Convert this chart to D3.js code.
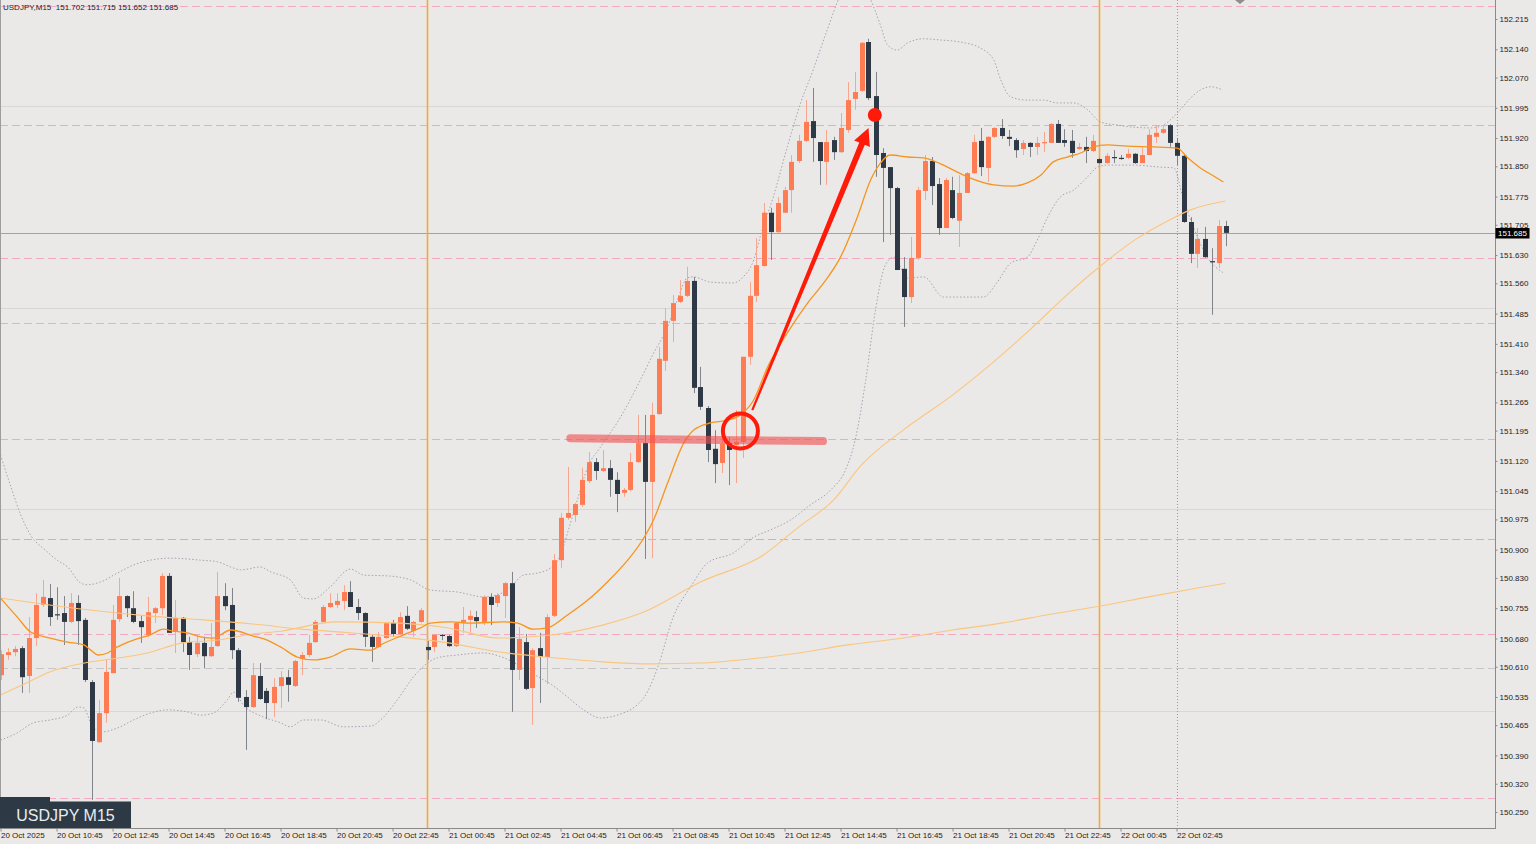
<!DOCTYPE html>
<html><head><meta charset="utf-8">
<script src="https://cdn.jsdelivr.net/npm/d3@7"></script>
<style>
html,body{margin:0;padding:0;background:#ebe9e7;}
svg{display:block;font-family:"Liberation Sans",Arial,sans-serif;}
</style>
</head><body>
<svg id="chart" width="1536" height="844"></svg>
<script>
// ---------------- DATA ----------------
const symbolTitle = "USDJPY,M15";
const lastQuote = ["151.702","151.715","151.652","151.685"];
const boxLabel = "USDJPY M15";

const open = [
150.589,150.639,150.646,150.656,150.587,150.681,150.763,150.780,150.740,150.743,
150.721,150.768,150.726,150.572,150.423,150.495,150.594,150.728,150.785,150.755,
150.723,150.689,150.743,150.755,150.835,150.696,150.731,150.671,150.641,150.669,
150.636,150.661,150.785,150.763,150.651,150.535,150.510,150.587,150.550,150.520,
150.562,150.584,150.562,150.629,150.639,150.671,150.721,150.758,150.763,150.773,
150.795,150.758,150.743,150.684,150.659,150.681,150.718,150.691,150.736,150.699,
150.721,150.659,150.659,150.689,150.686,150.661,150.721,150.726,150.733,150.721,
150.783,150.768,150.785,150.817,150.602,150.671,150.557,150.656,150.634,150.736,
150.874,150.979,150.986,151.011,151.070,151.117,151.095,151.102,151.073,151.041,
151.048,151.117,151.164,151.068,151.236,151.368,151.467,151.514,151.529,151.566,
151.303,151.251,151.150,151.115,151.164,151.159,151.167,151.378,151.529,151.603,
151.735,151.687,151.735,151.791,151.863,151.913,151.962,151.910,151.861,151.915,
151.885,151.940,152.017,152.037,152.158,152.024,151.883,151.848,151.796,151.596,
151.526,151.623,151.789,151.863,151.806,151.697,151.791,151.715,151.784,151.833,
151.913,151.846,151.923,151.945,151.923,151.915,151.893,151.908,151.898,151.908,
151.908,151.955,151.915,151.913,151.893,151.898,151.888,151.868,151.858,151.873,
151.871,151.871,151.881,151.858,151.878,151.923,151.933,151.952,151.908,151.876,
151.712,151.633,151.670,151.615,151.610,151.702];

const high = [
150.651,150.656,150.661,150.661,150.733,150.792,150.825,150.815,150.807,150.785,
150.792,150.787,150.731,150.577,150.528,150.627,150.763,150.830,150.787,150.797,
150.738,150.783,150.758,150.842,150.842,150.775,150.733,150.684,150.686,150.684,
150.718,150.845,150.817,150.805,150.656,150.552,150.619,150.619,150.557,150.582,
150.599,150.602,150.627,150.646,150.689,150.726,150.763,150.792,150.792,150.812,
150.822,150.778,150.745,150.689,150.696,150.721,150.726,150.745,150.760,150.723,
150.755,150.674,150.691,150.691,150.689,150.721,150.758,150.750,150.748,150.787,
150.792,150.792,150.820,150.845,150.708,150.691,150.656,150.694,150.740,150.889,
150.991,151.105,151.016,151.103,151.142,151.127,151.147,151.122,151.092,151.053,
151.140,151.234,151.234,151.264,151.402,151.499,151.531,151.568,151.601,151.576,
151.353,151.256,151.196,151.192,151.179,151.246,151.378,151.564,151.672,151.759,
151.747,151.774,151.799,151.878,151.928,152.014,152.044,151.910,151.940,151.923,
151.982,152.059,152.084,152.158,152.166,152.084,151.895,151.848,151.799,151.625,
151.675,151.799,151.878,151.873,151.821,151.821,151.824,151.828,151.836,151.928,
151.945,151.925,151.947,151.967,151.940,151.920,151.915,151.910,151.923,151.935,
151.957,151.965,151.942,151.940,151.908,151.923,151.928,151.871,151.883,151.890,
151.878,151.893,151.883,151.895,151.942,151.952,151.952,151.955,151.920,151.878,
151.724,151.697,151.700,151.647,151.717,151.715];

const low = [
150.577,150.627,150.636,150.545,150.545,150.661,150.758,150.711,150.726,150.664,
150.718,150.664,150.572,150.280,150.421,150.471,150.594,150.721,150.733,150.718,
150.669,150.684,150.718,150.738,150.694,150.644,150.646,150.602,150.634,150.607,
150.634,150.659,150.750,150.629,150.523,150.404,150.508,150.528,150.480,150.485,
150.508,150.523,150.560,150.589,150.634,150.669,150.718,150.755,150.755,150.750,
150.758,150.726,150.659,150.622,150.656,150.679,150.684,150.689,150.701,150.684,
150.718,150.627,150.646,150.676,150.659,150.659,150.694,150.694,150.706,150.713,
150.713,150.758,150.731,150.498,150.577,150.552,150.466,150.520,150.567,150.733,
150.855,150.974,150.969,151.006,151.065,151.073,151.092,151.031,150.993,151.031,
151.045,151.115,150.877,150.879,151.234,151.343,151.415,151.511,151.526,151.288,
151.246,151.117,151.065,151.090,151.060,151.065,151.127,151.358,151.514,151.601,
151.618,151.685,151.735,151.735,151.858,151.910,151.861,151.804,151.804,151.866,
151.883,151.933,151.990,152.034,152.014,151.824,151.662,151.680,151.593,151.452,
151.511,151.618,151.767,151.754,151.680,151.697,151.719,151.650,151.784,151.831,
151.826,151.811,151.920,151.918,151.900,151.871,151.878,151.873,151.878,151.885,
151.908,151.908,151.898,151.871,151.890,151.858,151.885,151.856,151.856,151.858,
151.866,151.868,151.856,151.858,151.878,151.908,151.930,151.898,151.853,151.710,
151.610,151.598,151.623,151.482,151.598,151.652];

const close = [
150.641,150.646,150.654,150.584,150.681,150.763,150.783,150.733,150.738,150.721,
150.768,150.723,150.577,150.426,150.495,150.597,150.726,150.785,150.755,150.721,
150.708,150.745,150.755,150.835,150.694,150.731,150.671,150.639,150.669,150.636,
150.659,150.785,150.760,150.651,150.533,150.510,150.589,150.530,150.520,150.560,
150.584,150.565,150.624,150.639,150.669,150.721,150.758,150.768,150.773,150.795,
150.758,150.743,150.684,150.659,150.684,150.718,150.691,150.733,150.704,150.721,
150.750,150.651,150.689,150.686,150.661,150.718,150.726,150.736,150.723,150.783,
150.763,150.787,150.817,150.602,150.679,150.555,150.651,150.634,150.733,150.874,
150.979,150.991,151.013,151.073,151.117,151.095,151.102,151.073,151.038,151.048,
151.117,151.164,151.068,151.234,151.373,151.467,151.511,151.529,151.566,151.301,
151.254,151.147,151.112,151.162,151.147,151.167,151.378,151.529,151.605,151.735,
151.687,151.759,151.791,151.861,151.913,151.960,151.920,151.863,151.910,151.885,
151.945,152.014,152.034,152.156,152.019,151.878,151.846,151.796,151.593,151.526,
151.623,151.791,151.863,151.801,151.697,151.816,151.722,151.784,151.833,151.910,
151.848,151.923,151.945,151.925,151.918,151.890,151.908,151.898,151.908,151.910,
151.955,151.908,151.908,151.883,151.898,151.888,151.913,151.858,151.876,151.871,
151.869,151.881,151.858,151.878,151.928,151.933,151.942,151.908,151.876,151.712,
151.633,151.670,151.625,151.613,151.702,151.685];

// moving averages and Bollinger bands: [candle index, price]
const maFast = [[0,150.780],[2.4,150.733],[4.3,150.696],[7.1,150.681],[9.6,150.671],[11.9,150.664],[12.9,150.651],[14,150.639],[15.3,150.644],[16.7,150.659],[19,150.676],[21.4,150.689],[23.3,150.703],[24.7,150.698],[26.7,150.694],[28.6,150.684],[30.4,150.681],[32.9,150.701],[36.1,150.686],[38.1,150.676],[40,150.659],[42.4,150.634],[44.7,150.627],[47.1,150.634],[50,150.654],[52.9,150.651],[54.3,150.664],[57.6,150.689],[60,150.706],[61.4,150.718],[64.3,150.721],[67.1,150.718],[71.9,150.721],[73.9,150.718],[76.1,150.703],[78.1,150.706],[81,150.738],[83.9,150.775],[86.7,150.820],[89.6,150.874],[91.9,150.929],[93.3,150.974],[95.3,151.065],[97.6,151.164],[99,151.196],[101.4,151.214],[103.9,151.221],[105.7,151.234],[107.6,151.271],[109.6,151.353],[112.4,151.437],[115.3,151.511],[117.6,151.561],[120,151.625],[122.4,151.724],[124.3,151.816],[125.7,151.858],[127.1,151.878],[129.6,151.873],[131.9,151.871],[134.3,151.856],[138.1,151.824],[141.9,151.804],[144.7,151.801],[146.7,151.809],[148.6,151.828],[150.4,151.861],[152.4,151.873],[154.3,151.883],[156.1,151.898],[158.1,151.903],[161,151.900],[164.7,151.898],[168.1,151.895],[169.6,151.871],[171.4,151.846],[173.3,151.826],[174.7,151.811]];

const ma50 = [[0,150.540],[4,150.572],[7,150.597],[12,150.619],[17,150.632],[21,150.644],[26,150.669],[31,150.676],[36,150.691],[40,150.698],[48,150.721],[57,150.718],[64,150.706],[71,150.681],[79,150.689],[86,150.713],[92,150.746],[100,150.820],[109,150.887],[114,150.956],[119,151.023],[123,151.110],[129,151.197],[136,151.283],[143,151.382],[147,151.444],[152,151.526],[157,151.601],[162,151.667],[167,151.717],[170,151.742],[175,151.764]];

const ma200 = [[0,150.780],[7,150.763],[14,150.748],[21,150.736],[29,150.726],[36,150.716],[43,150.703],[50,150.694],[57,150.684],[64,150.669],[71,150.647],[79,150.632],[86,150.622],[93,150.617],[100,150.619],[107,150.629],[114,150.644],[121,150.664],[129,150.681],[136,150.701],[143,150.718],[150,150.740],[157,150.760],[164,150.783],[171,150.805],[175,150.817]];

const bbUpper = [[0,151.135],[1.4,151.060],[2.9,150.986],[4.3,150.936],[6.4,150.899],[8.1,150.874],[9.6,150.857],[11.4,150.818],[12.4,150.813],[14.3,150.820],[16.7,150.842],[19,150.862],[20.4,150.870],[24.3,150.879],[28.6,150.874],[31,150.870],[32.9,150.857],[34.3,150.850],[37.1,150.857],[38.6,150.845],[41.4,150.825],[43.3,150.780],[44.7,150.778],[47.1,150.808],[50,150.852],[51.9,150.837],[55.3,150.835],[58.6,150.825],[61.4,150.800],[65.3,150.795],[69,150.783],[71,150.788],[72.9,150.808],[74.7,150.837],[76.7,150.842],[78.6,150.855],[80,150.887],[81,150.941],[82.4,151.023],[83.9,151.105],[85.7,151.154],[88.6,151.229],[91.4,151.320],[93.3,151.387],[95.3,151.452],[96.7,151.519],[98.1,151.573],[99,151.576],[101.4,151.563],[104.7,151.561],[106.1,151.576],[107.6,151.618],[108.6,151.680],[110.4,151.774],[112.4,151.898],[114.3,152.007],[116.1,152.089],[118.1,152.188],[120,152.274],[122.1,152.312],[124,152.274],[125.7,152.200],[126.7,152.151],[128.1,152.138],[129.6,152.156],[131.9,152.166],[134.3,152.163],[137.1,152.158],[140,152.143],[141.9,152.113],[142.9,152.064],[144.3,152.022],[146.7,152.014],[149,152.014],[151,152.007],[153.3,152.007],[155.3,151.990],[157.1,151.960],[159.6,151.952],[161.9,151.947],[164.3,151.945],[166.1,151.952],[168.1,151.982],[170,152.019],[171.4,152.039],[172.9,152.047],[174.6,152.039]];

const bbLower = [[0,150.428],[2.4,150.446],[4.7,150.471],[7.1,150.478],[9.6,150.490],[11,150.510],[11.9,150.508],[12.9,150.471],[14.3,150.448],[16.7,150.458],[19,150.478],[21.4,150.495],[23.9,150.503],[26.7,150.498],[28.6,150.490],[30.4,150.495],[32.4,150.528],[33.3,150.547],[34.7,150.515],[37.6,150.485],[40,150.471],[41.4,150.461],[43.3,150.478],[45.7,150.478],[49,150.461],[52.9,150.463],[54.3,150.478],[56.7,150.528],[59,150.585],[62.4,150.632],[65.3,150.639],[69,150.644],[71.9,150.632],[74.7,150.607],[77.1,150.582],[78.6,150.567],[81,150.535],[83.3,150.503],[85.7,150.483],[88.1,150.490],[91.9,150.533],[93.9,150.609],[96.1,150.733],[98.6,150.808],[101,150.867],[104.7,150.892],[107.6,150.931],[110,150.949],[112.9,150.974],[115.7,151.011],[118.6,151.048],[120.7,151.097],[122.1,151.172],[123.6,151.320],[125,151.494],[126.4,151.605],[127.6,151.625],[129.6,151.573],[131.9,151.576],[134.7,151.526],[140.4,151.526],[142.4,151.563],[144.3,151.610],[146.7,151.625],[148.1,151.667],[149.6,151.724],[151.4,151.774],[153.3,151.791],[155.3,151.824],[156.7,151.848],[158.1,151.853],[161.9,151.853],[165.7,151.848],[167.6,151.846],[169,151.767],[170.4,151.700],[172.4,151.625],[174.7,151.586]];

// horizontal levels
const levelPrices = [152.247,152.000,151.952,151.685,151.623,151.500,151.462,151.174,151.000,150.926,150.691,150.607,150.500,150.285];
const levelKinds  = ["pink","grid","salmon","price","pink","grid","blue","pink","grid","green","pink","gray","grid","pink"];

// vertical markers (candle index)
const daySeparators = [61,157];
const dottedMarker = [168];

// axis ticks
const yTicks = [152.215,152.140,152.070,151.995,151.920,151.850,151.775,151.705,151.630,151.560,151.485,151.410,151.340,151.265,151.195,151.120,151.045,150.975,150.900,150.830,150.755,150.680,150.610,150.535,150.465,150.390,150.320,150.250];
const xTickIdx = [0,8,16,24,32,40,48,56,64,72,80,88,96,104,112,120,128,136,144,152,160,168];
const xTickLabels = ["20 Oct 2025","20 Oct 10:45","20 Oct 12:45","20 Oct 14:45","20 Oct 16:45","20 Oct 18:45","20 Oct 20:45","20 Oct 22:45","21 Oct 00:45","21 Oct 02:45","21 Oct 04:45","21 Oct 06:45","21 Oct 08:45","21 Oct 10:45","21 Oct 12:45","21 Oct 14:45","21 Oct 16:45","21 Oct 18:45","21 Oct 20:45","21 Oct 22:45","22 Oct 00:45","22 Oct 02:45"];

// annotations: [candle index, price]
const zoneLine = [[81.4,151.176],[117.5,151.169]];
const circlePt = [105.7,151.194];
const arrowFrom = [107.4,151.246];
const arrowTo = [124,151.945];
const dotPt = [124.9,151.977];
const lastPrice = 151.685;

// ---------------- DRAW ----------------
const W = 1536, H = 844, PR = 1495, PB = 828;
const svg = d3.select("#chart");
svg.append("rect").attr("width",W).attr("height",H).attr("fill","#ebe9e7");

const x = d3.scaleLinear().domain([0,175]).range([0.5,1225.5]);
const y = d3.scaleLinear().domain([150.2103,152.2621]).range([PB,0]);

svg.append("defs").append("clipPath").attr("id","clip")
  .append("rect").attr("x",0).attr("y",0).attr("width",PR).attr("height",PB);
const plot = svg.append("g").attr("clip-path","url(#clip)");

const levelStyle = {
  pink:{c:"#f3a9c6",d:"8,4"}, salmon:{c:"#f0ada3",d:"8,4"}, blue:{c:"#b6c6d8",d:"8,4"},
  green:{c:"#a9c3b4",d:"8,4"}, gray:{c:"#c6c6c6",d:"8,4"}, grid:{c:"#d9d7d5",d:null}, price:{c:"#a3a3a3",d:null}
};
plot.selectAll("line.lvl").data(levelPrices).join("line").attr("class","lvl")
  .attr("x1",0).attr("x2",PR)
  .attr("y1",d=>Math.round(y(d))+0.5).attr("y2",d=>Math.round(y(d))+0.5)
  .attr("stroke",(d,i)=>levelStyle[levelKinds[i]].c)
  .attr("stroke-width",(d,i)=>levelKinds[i]==="grid"?1.2:1)
  .attr("stroke-dasharray",(d,i)=>levelStyle[levelKinds[i]].d);

plot.selectAll("line.sep").data(daySeparators).join("line").attr("class","sep")
  .attr("x1",d=>x(d)).attr("x2",d=>x(d)).attr("y1",0).attr("y2",PB)
  .attr("stroke","#f6a93a").attr("stroke-width",1.6);
plot.selectAll("line.dm").data(dottedMarker).join("line").attr("class","dm")
  .attr("x1",d=>Math.round(x(d))+0.5).attr("x2",d=>Math.round(x(d))+0.5).attr("y1",0).attr("y2",PB)
  .attr("stroke","#9a9a9a").attr("stroke-width",1).attr("stroke-dasharray","1,2");

const line = d3.line().x(d=>x(d[0])).y(d=>y(d[1])).curve(d3.curveMonotoneX);
[bbUpper,bbLower].forEach(b=>{
  plot.append("path").datum(b).attr("d",line).attr("fill","none")
    .attr("stroke","#a4a2b2").attr("stroke-width",1).attr("stroke-dasharray","1.5,2");
});

// candles
const bull = "#ff7b52", bear = "#2e3945", bullWick = "#f7a68f", bearWick = "#80858b";
const candles = open.map((o,i)=>({i,o,h:high[i],l:low[i],c:close[i]}));
const cg = plot.append("g");
cg.selectAll("line").data(candles).join("line")
  .attr("x1",d=>Math.round(x(d.i))+0.5).attr("x2",d=>Math.round(x(d.i))+0.5)
  .attr("y1",d=>y(d.h)).attr("y2",d=>y(d.l))
  .attr("stroke",d=>d.c>d.o?bullWick:bearWick).attr("stroke-width",1);
cg.selectAll("rect").data(candles).join("rect")
  .attr("x",d=>Math.round(x(d.i))-2).attr("width",5)
  .attr("y",d=>y(Math.max(d.o,d.c)))
  .attr("height",d=>Math.max(1.2,Math.abs(y(d.o)-y(d.c))))
  .attr("fill",d=>d.c>d.o?bull:bear);

// moving averages
plot.append("path").datum(ma200).attr("d",line).attr("fill","none").attr("stroke","#fbc57e").attr("stroke-width",1.1);
plot.append("path").datum(ma50).attr("d",line).attr("fill","none").attr("stroke","#fbc57e").attr("stroke-width",1.1);
plot.append("path").datum(maFast).attr("d",line).attr("fill","none").attr("stroke","#f7941d").attr("stroke-width",1.3);

// annotations
const ann = plot.append("g");
ann.append("path").datum(zoneLine).attr("d",d3.line().x(d=>x(d[0])).y(d=>y(d[1])))
  .attr("stroke","rgba(240,80,80,0.62)").attr("stroke-width",8).attr("stroke-linecap","round").attr("fill","none");
ann.append("circle").attr("cx",x(circlePt[0])).attr("cy",y(circlePt[1])).attr("r",17.5)
  .attr("fill","none").attr("stroke","#ff1a0a").attr("stroke-width",4);
{
  const x0=x(arrowFrom[0]), y0=y(arrowFrom[1]), x1=x(arrowTo[0]), y1=y(arrowTo[1]);
  const dx=x1-x0, dy=y1-y0, L=Math.hypot(dx,dy), ux=dx/L, uy=dy/L, nx=-uy, ny=ux;
  const headL=17, headW=8.5, w0=1.1, w1=3.0;
  const bx=x1-ux*headL, by=y1-uy*headL;
  const pts=[[x0+nx*w0,y0+ny*w0],[bx+nx*w1,by+ny*w1],[bx+nx*headW,by+ny*headW],[x1,y1],
             [bx-nx*headW,by-ny*headW],[bx-nx*w1,by-ny*w1],[x0-nx*w0,y0-ny*w0]];
  ann.append("polygon").attr("points",pts.map(p=>p.join(",")).join(" ")).attr("fill","#ff1a0a");
}
ann.append("circle").attr("cx",x(dotPt[0])).attr("cy",y(dotPt[1])).attr("r",7).attr("fill","#ff1a0a");

// frame
svg.append("line").attr("x1",0.5).attr("x2",0.5).attr("y1",0).attr("y2",PB).attr("stroke","#9d9d9d");
svg.append("line").attr("x1",PR+0.5).attr("x2",PR+0.5).attr("y1",0).attr("y2",PB+0.5).attr("stroke","#8a8a8a");
svg.append("line").attr("x1",0).attr("x2",PR+1).attr("y1",PB+0.5).attr("y2",PB+0.5).attr("stroke","#8a8a8a");

// y axis
const yAxis = svg.append("g").attr("transform",`translate(${PR+0.5},0)`)
  .call(d3.axisRight(y).tickValues(yTicks).tickSize(2).tickPadding(2).tickFormat(d3.format(".3f")));
yAxis.select(".domain").remove();
yAxis.selectAll("line").attr("stroke","#8a8a8a");
yAxis.selectAll("text").attr("fill","#222").style("font-size","8px").style("font-family","'Liberation Sans',Arial,sans-serif");

// x axis
const xAxis = svg.append("g").attr("transform",`translate(0,${PB+0.5})`)
  .call(d3.axisBottom(x).tickValues(xTickIdx).tickSize(3).tickFormat((d,i)=>xTickLabels[i]));
xAxis.select(".domain").remove();
xAxis.selectAll("line").attr("stroke","#8a8a8a");
xAxis.selectAll("text").attr("fill","#222").attr("text-anchor","start").attr("dx","0")
  .attr("y",4).attr("dy","0.71em")
  .style("font-size","8px").style("font-family","'Liberation Sans',Arial,sans-serif");

// current price tag
{
  const py = y(lastPrice);
  svg.append("rect").attr("x",PR+0.5).attr("y",Math.round(py)-5).attr("width",34).attr("height",10.5).attr("fill","#000");
  svg.append("text").attr("x",PR+3).attr("y",py).attr("dy","0.35em").attr("fill","#fff")
    .style("font-size","8px").text(d3.format(".3f")(lastPrice));
}

// header text
svg.append("text").attr("x",3).attr("y",10).attr("fill","#222").style("font-size","8px")
  .attr("xml:space","preserve").text(symbolTitle + "  " + lastQuote.join(" "));

// top-right marker
svg.append("path").attr("d","M1235,0 L1245,0 L1240,4 Z").attr("fill","#8e8e8e");

// bottom-left label box
svg.append("rect").attr("x",0).attr("y",797).attr("width",50).attr("height",5).attr("fill","#2d3a45");
svg.append("rect").attr("x",0).attr("y",801.5).attr("width",131).attr("height",26.5).attr("fill","#2d3a45");
svg.append("text").attr("x",65.5).attr("y",815).attr("dy","0.36em").attr("text-anchor","middle")
  .attr("fill","#e9ecef").style("font-size","16px").text(boxLabel);
</script>
</body></html>
